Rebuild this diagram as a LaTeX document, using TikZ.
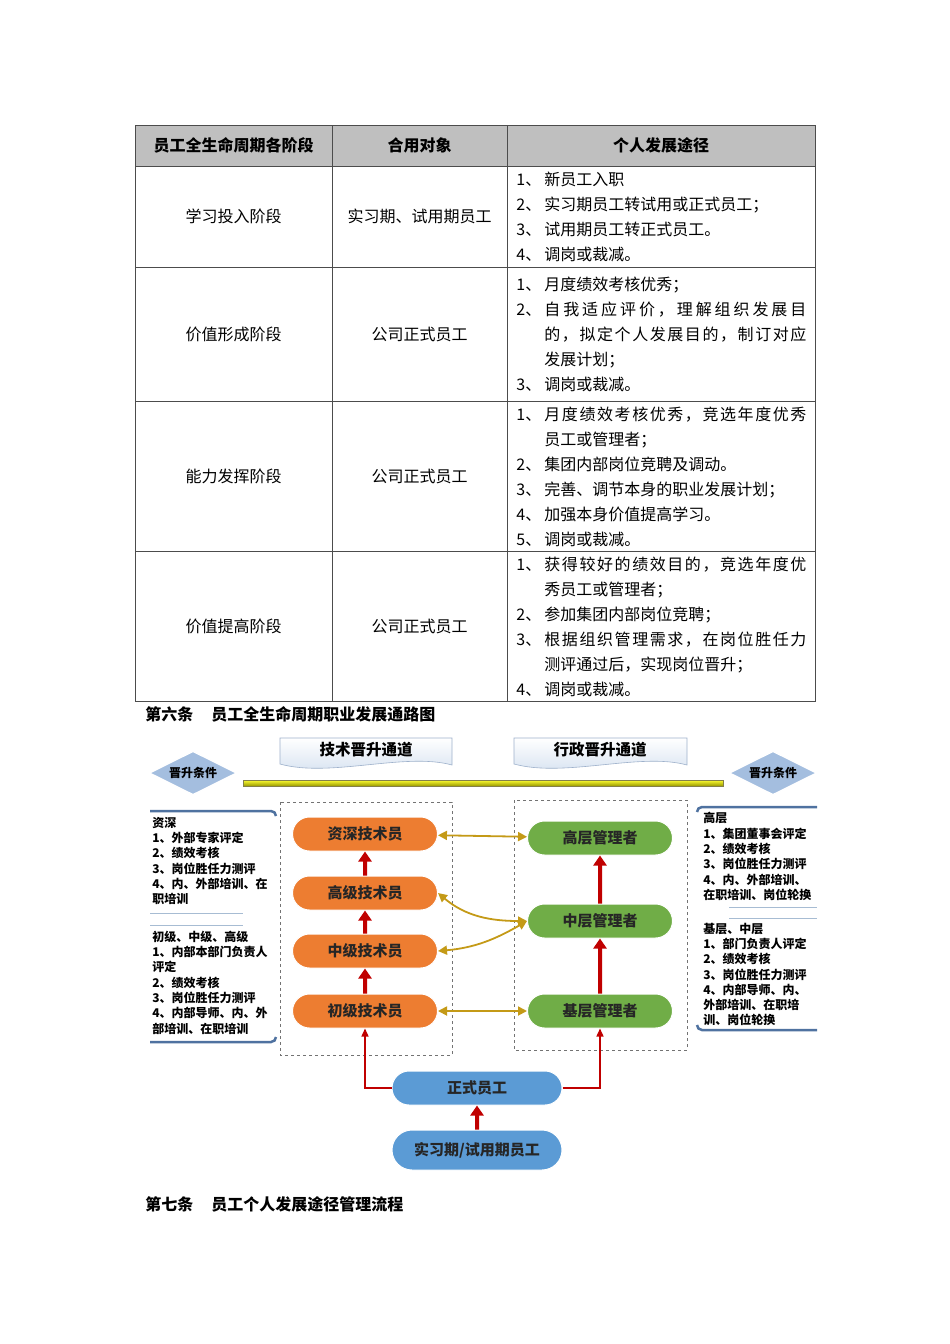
\documentclass[tikz,border=0pt]{standalone}
\usepackage{fontspec}
\setmainfont{Noto Sans CJK SC}
\usetikzlibrary{arrows.meta,shapes.geometric,shapes.misc}

\definecolor{hdrgray}{HTML}{BFBFBF}
\definecolor{techorange}{HTML}{ED7D31}
\definecolor{mgrgreen}{HTML}{70AD47}
\definecolor{staffblue}{HTML}{5B9BD5}
\definecolor{upred}{HTML}{C00000}
\definecolor{linkgold}{HTML}{C49A17}
\definecolor{condblue}{HTML}{A4BEDF}
\definecolor{panelblue}{HTML}{4F72A0}
\definecolor{rulegray}{HTML}{A7BCD3}

\newcommand\stepno[1]{\makebox[28pt][l]{#1、}}
\newcommand\wrapin{\hspace*{28pt}}
\newcommand\spread[1]{\makebox[262pt][s]{\spaceskip=0pt plus 1fil\relax #1}}

\begin{document}
\begin{tikzpicture}[
    x=1pt, y=-1pt,
    line width=0.8pt,
    cell/.style={inner sep=0pt, font=\fontsize{16}{25}\selectfont},
    hdr/.style={cell, font=\bfseries\fontsize{16}{25}\selectfont},
    steps/.style={cell, anchor=west, align=left},
    clause/.style={inner sep=0pt, anchor=west, font=\bfseries\fontsize{16}{16}\selectfont},
    cond/.style={inner sep=0pt, anchor=west, align=left, font=\bfseries\fontsize{12}{15.3}\selectfont},
    gate/.style={diamond, aspect=2, minimum width=88pt, minimum height=44pt, inner sep=0pt,
      fill=condblue, draw=white, line width=1.5pt, font=\bfseries\fontsize{12}{12}\selectfont},
    banner/.style={top color=white, bottom color=condblue!50, draw=panelblue!55, line width=0.6pt},
    chan/.style={inner sep=0pt, font=\bfseries\fontsize{15.5}{15.5}\selectfont},
    pill/.style={rounded rectangle, minimum width=145pt, minimum height=34pt, inner sep=0pt,
      draw=white, line width=1pt, text=black!85, font=\bfseries\fontsize{15}{15}\selectfont},
    tech/.style={pill, fill=techorange},
    mgr/.style={pill, fill=mgrgreen},
    staff/.style={pill, fill=staffblue, minimum width=170pt},
    lane/.style={draw=black!55, dashed, line width=0.7pt},
    rise/.style={upred, line width=4pt, -{Triangle[length=10pt,width=13pt]}},
    link/.style={linkgold, line width=1.8pt, {Triangle[length=9pt,width=9pt]}-{Triangle[length=9pt,width=9pt]}},
    feed/.style={upred, line width=1.4pt, -{Triangle[length=8pt,width=7pt]}}
]
  \useasboundingbox (0,0) rectangle (950,1344);

  % table
  \fill[hdrgray] (135,125) rectangle (815,166);
  \draw[black!70] (135,125) rectangle (815,701);
  \foreach \y in {166,267,401,551} \draw[black!70] (135,\y) -- (815,\y);
  \foreach \x in {332,507} \draw[black!70] (\x,125) -- (\x,701);

  \node[hdr] (h1) at (233.5,145) {员工全生命周期各阶段};
  \node[hdr] (h2) at (419.5,145) {合用对象};
  \node[hdr] (h3) at (661,145) {个人发展途径};

  \node[cell] (a1) at (233.5,216.5) {学习投入阶段};
  \node[cell] (a2) at (233.5,334) {价值形成阶段};
  \node[cell] (a3) at (233.5,476.5) {能力发挥阶段};
  \node[cell] (a4) at (233.5,626.5) {价值提高阶段};

  \node[cell] (b1) at (419.5,216.5) {实习期、试用期员工};
  \node[cell] (b2) at (419.5,334) {公司正式员工};
  \node[cell] (b3) at (419.5,476.5) {公司正式员工};
  \node[cell] (b4) at (419.5,626.5) {公司正式员工};

  \node[steps] (s1) at (516,216.5) {\stepno1新员工入职\\
    \stepno2实习期员工转试用或正式员工；\\
    \stepno3试用期员工转正式员工。\\
    \stepno4调岗或裁减。};
  \node[steps] (s2) at (516,334) {\stepno1月度绩效考核优秀；\\
    \stepno2\spread{自 我 适 应 评 价 ， 理 解 组 织 发 展 目}\\
    \wrapin\spread{的 ， 拟 定 个 人 发 展 目 的 ， 制 订 对 应}\\
    \wrapin 发展计划；\\
    \stepno3调岗或裁减。};
  \node[steps] (s3) at (516,476.5) {\stepno1\spread{月 度 绩 效 考 核 优 秀 ， 竞 选 年 度 优 秀}\\
    \wrapin 员工或管理者；\\
    \stepno2集团内部岗位竞聘及调动。\\
    \stepno3完善、调节本身的职业发展计划；\\
    \stepno4加强本身价值提高学习。\\
    \stepno5调岗或裁减。};
  \node[steps] (s4) at (516,626.5) {\stepno1\spread{获 得 较 好 的 绩 效 目 的 ， 竞 选 年 度 优}\\
    \wrapin 秀员工或管理者；\\
    \stepno2参加集团内部岗位竞聘；\\
    \stepno3\spread{根 据 组 织 管 理 需 求 ， 在 岗 位 胜 任 力}\\
    \wrapin 测评通过后，实现岗位晋升；\\
    \stepno4调岗或裁减。};

  \node[clause] (art6) at (145,714) {第六条\hspace{18pt}员工全生命周期职业发展通路图};

  % channels and conditions
  \shadedraw[banner] (280,738) -- (452,738) -- (452,765)
    .. controls (405,752) and (330,778) .. (280,764) -- cycle;
  \shadedraw[banner] (514,738) -- (687,738) -- (687,765)
    .. controls (640,752) and (565,778) .. (514,764) -- cycle;
  \node[chan] (techch) at (366,750) {技术晋升通道};
  \node[chan] (mgrch) at (600,750) {行政晋升通道};
  \node[gate] (condl) at (193,773) {晋升条件};
  \node[gate] (condr) at (773,773) {晋升条件};
  \shadedraw[top color=yellow!80!white, bottom color=yellow!60!black, draw=yellow!45!black, line width=0.4pt]
    (243,780) rectangle (723,786);

  % lanes
  \draw[lane] (280,802) rectangle (452,1055);
  \draw[lane] (514,800) rectangle (687,1050);

  % nodes
  \node[tech] (t4) at (365,834) {资深技术员};
  \node[tech] (t3) at (365,893) {高级技术员};
  \node[tech] (t2) at (365,951) {中级技术员};
  \node[tech] (t1) at (365,1011) {初级技术员};
  \node[mgr] (m3) at (600,838) {高层管理者};
  \node[mgr] (m2) at (600,921) {中层管理者};
  \node[mgr] (m1) at (600,1011) {基层管理者};
  \node[staff] (f1) at (477,1088) {正式员工};
  \node[staff, minimum height=40pt] (f0) at (477,1150) {实习期/试用期员工};

  % edges
  \foreach \a/\b in {t1/t2, t2/t3, t3/t4, m1/m2, m2/m3, f0/f1}
    \draw[rise] (\a) -- (\b);
  \draw[link] (t4) -- (m3);
  \draw[link] (t1) -- (m1);
  \draw[link] (t3.east) to[out=-40, in=180] (m2.west);
  \draw[link] (t2.east) to[out=5, in=-150] (m2.west);
  \draw[feed] (f1.west) -| (t1.south);
  \draw[feed] (f1.east) -| (m1.south);

  % condition panels
  \draw[panelblue, line width=2.5pt] (150,811) -- (271,811) to[out=0, in=90] (276,816);
  \draw[panelblue, line width=2.5pt] (150,1042) -- (271,1042) to[out=0, in=-90] (276,1037);
  \draw[rulegray] (150,913) -- (243,913);
  \draw[rulegray] (150,925) -- (243,925);
  \draw[panelblue, line width=2.5pt] (817,807) -- (702,807) to[out=180, in=90] (697,812);
  \draw[panelblue, line width=2.5pt] (817,1030) -- (702,1030) to[out=180, in=-90] (697,1025);
  \draw[rulegray] (729,907) -- (817,907);
  \draw[rulegray] (729,918) -- (817,918);

  \node[cond] (ql1) at (152,861) {资深\\1、外部专家评定\\2、绩效考核\\3、岗位胜任力测评\\4、内、外部培训、在\\职培训};
  \node[cond] (ql2) at (152,982.5) {初级、中级、高级\\1、内部本部门负责人\\评定\\2、绩效考核\\3、岗位胜任力测评\\4、内部导师、内、外\\部培训、在职培训};
  \node[cond] (qr1) at (703,856.5) {高层\\1、集团董事会评定\\2、绩效考核\\3、岗位胜任力测评\\4、内、外部培训、\\在职培训、岗位轮换};
  \node[cond] (qr2) at (703,974.5) {基层、中层\\1、部门负责人评定\\2、绩效考核\\3、岗位胜任力测评\\4、内部导师、内、\\外部培训、在职培\\训、岗位轮换};

  \node[clause] (art7) at (145,1204) {第七条\hspace{18pt}员工个人发展途径管理流程};
\end{tikzpicture}
\end{document}
